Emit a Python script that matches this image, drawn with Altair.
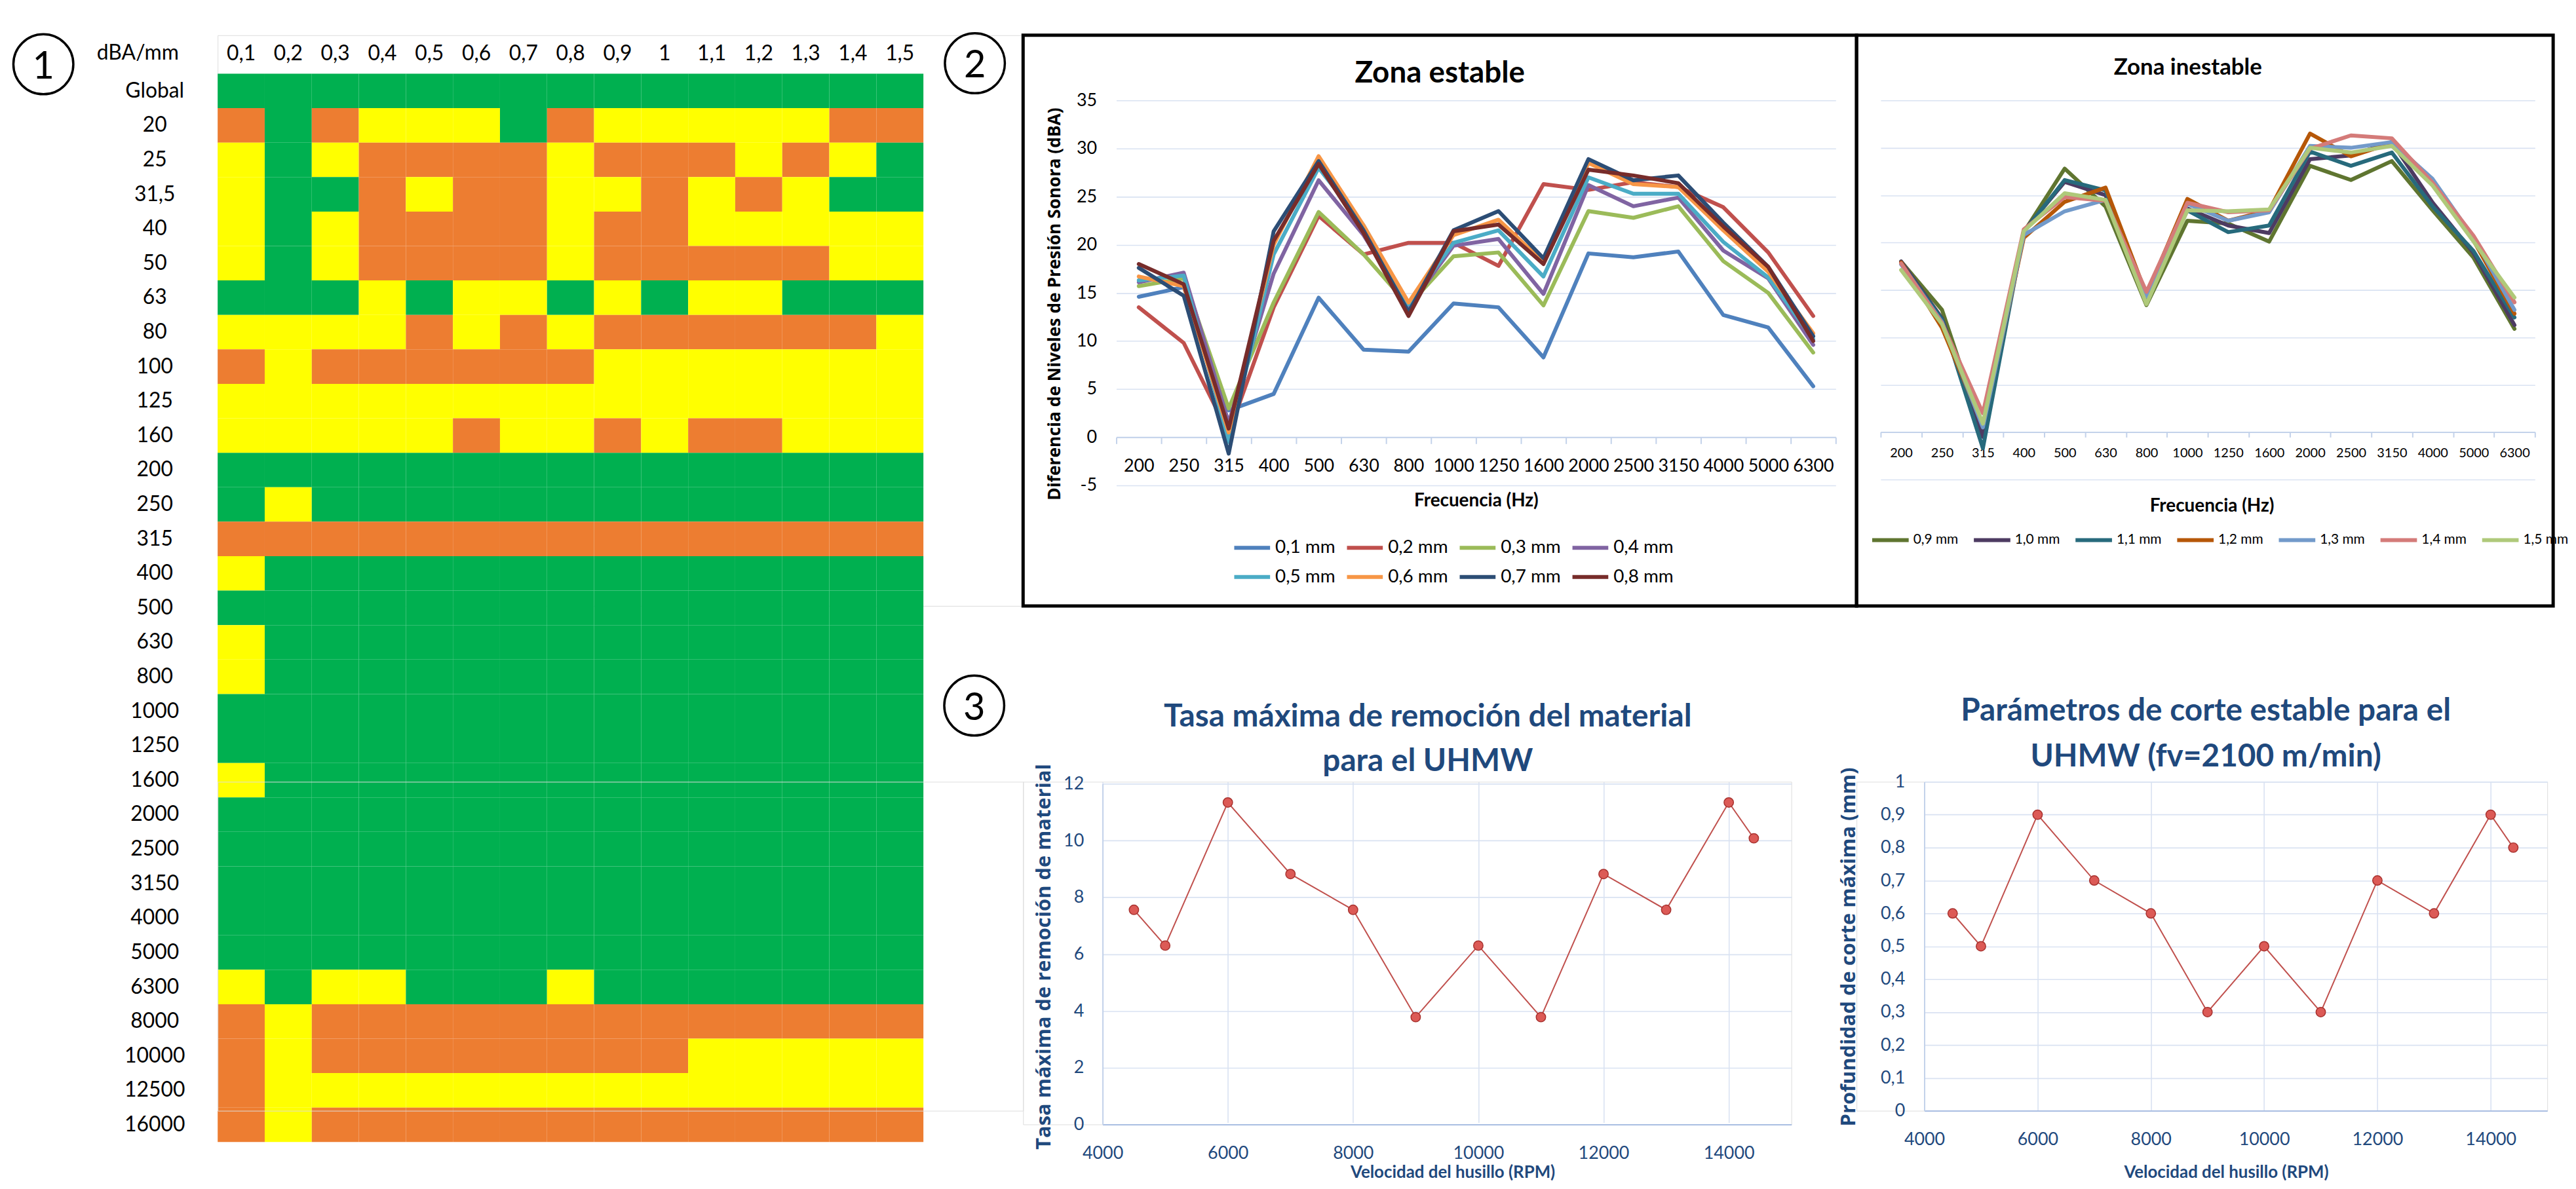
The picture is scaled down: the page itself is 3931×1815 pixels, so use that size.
import altair as alt
import pandas as pd

FONT = "Lato"
TFONT = "Open Sans"
NAVY = "#1F497D"
GRID = "#D9E2F2"
AXLINE = "#C3D2EA"
DOMAIN_BLUE = "#A9BEE2"

# ---------------- data ----------------
heat_cols = ["0,1", "0,2", "0,3", "0,4", "0,5", "0,6", "0,7", "0,8",
             "0,9", "1", "1,1", "1,2", "1,3", "1,4", "1,5"]
heat_rows = ["Global", "20", "25", "31,5", "40", "50", "63", "80", "100", "125",
             "160", "200", "250", "315", "400", "500", "630", "800", "1000",
             "1250", "1600", "2000", "2500", "3150", "4000", "5000", "6300",
             "8000", "10000", "12500", "16000"]
heat_grid = [
    "GGGGGGGGGGGGGGG",  # Global
    "OGOYYYGOYYYYYOO",  # 20
    "YGYOOOOYOOOYOYG",  # 25
    "YGGOYOOYYOYOYGG",  # 31,5
    "YGYOOOOYOOYYYYY",  # 40
    "YGYOOOOYOOOOOYY",  # 50
    "GGGYGYYGYGYYGGG",  # 63
    "YYYYOYOYOOOOOOY",  # 80
    "OYOOOOOOYYYYYYY",  # 100
    "YYYYYYYYYYYYYYY",  # 125
    "YYYYYOYYOYOOYYY",  # 160
    "GGGGGGGGGGGGGGG",  # 200
    "GYGGGGGGGGGGGGG",  # 250
    "OOOOOOOOOOOOOOO",  # 315
    "YGGGGGGGGGGGGGG",  # 400
    "GGGGGGGGGGGGGGG",  # 500
    "YGGGGGGGGGGGGGG",  # 630
    "YGGGGGGGGGGGGGG",  # 800
    "GGGGGGGGGGGGGGG",  # 1000
    "GGGGGGGGGGGGGGG",  # 1250
    "YGGGGGGGGGGGGGG",  # 1600
    "GGGGGGGGGGGGGGG",  # 2000
    "GGGGGGGGGGGGGGG",  # 2500
    "GGGGGGGGGGGGGGG",  # 3150
    "GGGGGGGGGGGGGGG",  # 4000
    "GGGGGGGGGGGGGGG",  # 5000
    "YGYYGGGYGGGGGGG",  # 6300
    "OYOOOOOOOOOOOOO",  # 8000
    "OYOOOOOOOOYYYYY",  # 10000
    "OYYYYYYYYYYYYYY",  # 12500
    "OYOOOOOOOOOOOOO",  # 16000
]
heat_levels = ["G", "Y", "O"]
heat_colors = ["#00B050", "#FFFF00", "#ED7D31"]

freqs = ["200", "250", "315", "400", "500", "630", "800", "1000", "1250",
         "1600", "2000", "2500", "3150", "4000", "5000", "6300"]

est_names = ["0,1 mm", "0,2 mm", "0,3 mm", "0,4 mm",
             "0,5 mm", "0,6 mm", "0,7 mm", "0,8 mm"]
est_colors = ["#4F81BD", "#C0504D", "#9BBB59", "#8064A2",
              "#4BACC6", "#F79646", "#2C4D75", "#772C2A"]
est_01 = [14.6, 15.6, 2.8, 4.5, 14.5, 9.1, 8.9, 13.9, 13.5, 8.3, 19.1, 18.7, 19.3, 12.7, 11.4, 5.3]
est_02 = [13.5, 9.8, 0.4, 13.5, 23.0, 19.0, 20.2, 20.2, 17.8, 26.3, 25.7, 26.5, 26.0, 23.9, 19.2, 12.6]
est_03 = [15.7, 16.5, 3.0, 14.0, 23.4, 19.0, 13.7, 18.8, 19.2, 13.7, 23.5, 22.8, 24.0, 18.3, 15.0, 8.8]
est_04 = [16.1, 17.1, 1.5, 17.0, 26.7, 21.0, 13.5, 19.9, 20.6, 14.9, 26.2, 24.0, 24.9, 19.4, 16.5, 9.6]
est_05 = [16.3, 16.8, -0.5, 19.0, 28.0, 22.0, 13.8, 20.2, 21.5, 16.7, 27.0, 25.3, 25.3, 20.3, 16.6, 10.2]
est_06 = [16.7, 15.7, 0.5, 20.0, 29.2, 22.0, 14.0, 21.0, 22.6, 18.2, 28.5, 26.3, 26.0, 21.5, 17.2, 10.8]
est_07 = [17.6, 14.7, -1.7, 21.4, 28.7, 21.5, 13.0, 21.5, 23.5, 18.6, 28.9, 26.7, 27.2, 22.3, 17.7, 10.5]
est_08 = [18.0, 15.9, 0.9, 20.4, 28.4, 21.2, 12.6, 21.4, 22.1, 18.0, 27.8, 27.2, 26.4, 21.9, 17.7, 10.0]
est_values = [est_01, est_02, est_03, est_04, est_05, est_06, est_07, est_08]

inest_names = ["0,9 mm", "1,0 mm", "1,1 mm", "1,2 mm", "1,3 mm", "1,4 mm", "1,5 mm"]
inest_colors = ["#5F7530", "#4D3B62", "#276A7C", "#B65708", "#729ACA", "#D47B79", "#AFC97A"]
ine_09 = [18.0, 12.9, 0.0, 21.1, 27.8, 23.8, 13.4, 22.3, 22.0, 20.1, 28.1, 26.6, 28.6, 23.4, 18.4, 10.9]
ine_10 = [18.0, 12.0, -0.5, 21.2, 26.4, 25.0, 14.1, 23.6, 21.8, 21.0, 28.8, 29.2, 30.6, 24.2, 18.9, 11.3]
ine_11 = [17.8, 11.9, -1.7, 21.1, 26.6, 25.5, 14.0, 23.4, 21.1, 21.8, 29.6, 28.1, 29.5, 23.8, 19.1, 12.1]
ine_12 = [17.9, 11.0, 0.7, 20.5, 24.3, 25.8, 14.5, 24.6, 22.3, 23.4, 31.5, 29.1, 30.5, 26.5, 20.2, 12.5]
ine_13 = [17.7, 11.6, 0.5, 20.8, 23.3, 24.5, 14.3, 24.1, 22.3, 23.2, 30.2, 30.0, 30.6, 26.7, 20.5, 12.9]
ine_14 = [17.8, 11.5, 2.0, 21.4, 24.8, 24.4, 14.8, 24.2, 23.2, 23.4, 29.9, 31.3, 31.0, 26.3, 20.7, 13.7]
ine_15 = [17.1, 11.4, 0.9, 21.2, 25.2, 24.5, 13.5, 23.4, 23.3, 23.5, 30.0, 29.5, 30.2, 26.0, 20.1, 14.2]
inest_values = [ine_09, ine_10, ine_11, ine_12, ine_13, ine_14, ine_15]

rpm = [4500, 5000, 6000, 7000, 8000, 9000, 10000, 11000, 12000, 13000, 14000, 14400]
tasa = [7.56, 6.3, 11.34, 8.82, 7.56, 3.78, 6.3, 3.78, 8.82, 7.56, 11.34, 10.08]
profundidad = [0.6, 0.5, 0.9, 0.7, 0.6, 0.3, 0.5, 0.3, 0.7, 0.6, 0.9, 0.8]
rpm_ticks = [4000, 6000, 8000, 10000, 12000, 14000]

# ---------------- frames ----------------
heat_df = pd.DataFrame([{"col": c, "row": r, "code": g[i]}
                        for r, g in zip(heat_rows, heat_grid)
                        for i, c in enumerate(heat_cols)])
est_df = pd.DataFrame([{"freq": f, "serie": n, "val": v}
                       for n, vals in zip(est_names, est_values)
                       for f, v in zip(freqs, vals)])
inest_df = pd.DataFrame([{"freq": f, "serie": n, "val": v}
                         for n, vals in zip(inest_names, inest_values)
                         for f, v in zip(freqs, vals)])
rate_df = pd.DataFrame({"rpm": rpm, "tasa": tasa, "prof": profundidad})
one = pd.DataFrame({"a": [0]})


def label_text(text, x, y, size, color="black", weight="bold"):
    return alt.Chart(one).mark_text(text=text, font=FONT, fontSize=size, fontWeight=weight,
                                    color=color, align="center", baseline="middle").encode(
        x=alt.value(x), y=alt.value(y))


# ---------------- panel 1: heatmap ----------------
COL1_W = 1236      # heatmap width + gap to the right block
HEAT_W = 1083
ROW1_H = 876
heat = alt.Chart(heat_df).mark_rect().encode(
    x=alt.X("col:N", sort=heat_cols,
            scale=alt.Scale(range=[0, HEAT_W], paddingInner=0, paddingOuter=0),
            axis=alt.Axis(orient="top", offset=-59, labelAngle=0, ticks=False, domain=False,
                          labelFont=FONT, labelFontSize=32, labelColor="black",
                          labelPadding=14, title=None)),
    y=alt.Y("row:N", sort=heat_rows,
            scale=alt.Scale(range=[59, 1699], paddingInner=0, paddingOuter=0),
            axis=alt.Axis(labelAlign="center", labelPadding=97, ticks=False, tickSize=0,
                          domain=False, labelFont=FONT, labelFontSize=32,
                          labelColor="black", title="dBA/mm", titleAngle=0,
                          titleX=-123, titleY=27, titleFont=FONT, titleFontSize=32,
                          titleFontWeight="normal", titleColor="black",
                          titleBaseline="middle", titleAlign="center")),
    color=alt.Color("code:N", scale=alt.Scale(domain=heat_levels, range=heat_colors),
                    legend=None),
)


def marker(label, cx, cy):
    base = alt.Chart(pd.DataFrame({"n": [label]}))
    ring = base.mark_point(shape="circle", size=8464, filled=False, color="black",
                           strokeWidth=3.5, opacity=1).encode(
        x=alt.value(cx), y=alt.value(cy))
    txt = base.mark_text(font=FONT, fontSize=58, color="black", baseline="middle",
                         align="center").encode(
        x=alt.value(cx), y=alt.value(cy + 5), text="n:N")
    return [ring, txt]


A = alt.layer(heat, *marker("1", -267.5, 44.5), *marker("2", 1162, 43),
              *marker("3", 1161, 1029)).properties(width=COL1_W, height=ROW1_H)

spacer = alt.Chart(one).mark_point(opacity=0).encode(
    x=alt.value(0), y=alt.value(0)).properties(width=COL1_W, height=505)

# ---------------- panel 2: zona estable ----------------
B_W = 1279
B_lines = alt.Chart(est_df).mark_line(strokeWidth=6, strokeJoin="round", strokeCap="round").encode(
    x=alt.X("freq:N", sort=freqs, bandPosition=0.5,
            scale=alt.Scale(type="band", range=[143, 1247], paddingInner=0, paddingOuter=0),
            axis=alt.Axis(orient="bottom", offset=-259, domainColor=AXLINE, domainWidth=2,
                          tickColor=AXLINE, tickWidth=2, tickSize=10, tickBand="extent",
                          labelAngle=0, labelFont=FONT, labelFontSize=27, labelColor="black",
                          labelPadding=21, title="Frecuencia (Hz)", titleFont=FONT,
                          titleFontSize=28, titleFontWeight="bold", titleColor="black",
                          titleX=695, titleY=98, titleBaseline="middle", titleAlign="center")),
    y=alt.Y("val:Q", scale=alt.Scale(domain=[-5, 35], range=[691, 100], nice=False, zero=False),
            axis=alt.Axis(orient="left", offset=-143, values=[-5, 0, 5, 10, 15, 20, 25, 30, 35],
                          domain=False, ticks=False, tickSize=0, grid=True, gridColor=GRID,
                          gridWidth=1.6, labelFont=FONT, labelFontSize=27, labelColor="black",
                          labelPadding=30, labelExpr="replace(datum.label, '\u2212', '-')",
                          title="Diferencia de Niveles de Presión Sonora (dBA)",
                          titleFont=TFONT, titleFontSize=26.5, titleFontWeight="bold",
                          titleColor="black", titleX=-94, titleY=412, titleAngle=270,
                          titleBaseline="middle", titleAlign="center")),
    color=alt.Color("serie:N", sort=est_names,
                    scale=alt.Scale(domain=est_names, range=est_colors),
                    legend=alt.Legend(orient="none", legendX=321, legendY=756,
                                      direction="horizontal", columns=4, title=None,
                                      symbolType="stroke", symbolSize=3025,
                                      symbolStrokeWidth=6, labelFont=FONT, labelFontSize=28,
                                      labelColor="black", labelOffset=5, columnPadding=5,
                                      rowPadding=0, padding=0)),
)
B = alt.layer(B_lines, label_text("Zona estable", 639.5, 59, 46)).properties(
    width=B_W, height=ROW1_H,
    view=alt.ViewBackground(stroke="black", strokeWidth=5),
)

# ---------------- panel 2: zona inestable ----------------
C_W = 1069
C_lines = alt.Chart(inest_df).mark_line(strokeWidth=6, strokeJoin="round", strokeCap="round").encode(
    x=alt.X("freq:N", sort=freqs, bandPosition=0.5,
            scale=alt.Scale(type="band", range=[37, 1041], paddingInner=0, paddingOuter=0),
            axis=alt.Axis(orient="bottom", offset=-267, domainColor=AXLINE, domainWidth=2,
                          tickColor=AXLINE, tickWidth=2, tickSize=8, tickBand="extent",
                          labelAngle=0, labelFont=FONT, labelFontSize=20, labelColor="black",
                          labelPadding=14, title="Frecuencia (Hz)", titleFont=FONT,
                          titleFontSize=28, titleFontWeight="bold", titleColor="black",
                          titleX=545, titleY=114, titleBaseline="middle", titleAlign="center")),
    y=alt.Y("val:Q", scale=alt.Scale(domain=[-5, 35], range=[682, 100], nice=False, zero=False),
            axis=alt.Axis(values=[-5, 0, 5, 10, 15, 20, 25, 30, 35], labels=False,
                          domain=False, ticks=False, grid=True, gridColor=GRID,
                          gridWidth=1.6, title=None)),
    color=alt.Color("serie:N", sort=inest_names,
                    scale=alt.Scale(domain=inest_names, range=inest_colors),
                    legend=alt.Legend(orient="none", legendX=21, legendY=744,
                                      direction="horizontal", columns=7, title=None,
                                      symbolType="stroke", symbolSize=3136,
                                      symbolStrokeWidth=6, labelFont=FONT, labelFontSize=21,
                                      labelColor="black", labelOffset=4, columnPadding=11,
                                      rowPadding=0, padding=0)),
)
C = alt.layer(C_lines, label_text("Zona inestable", 508.5, 50, 35)).properties(
    width=C_W, height=ROW1_H,
    view=alt.ViewBackground(stroke="black", strokeWidth=5),
)

# ---------------- panel 3 ----------------


def rpm_x(rng, title_x, title_y):
    return alt.X("rpm:Q", scale=alt.Scale(domain=[4000, 15000], range=rng, nice=False, zero=False),
                 axis=alt.Axis(values=rpm_ticks, format="d", labelFlush=False, grid=True,
                               gridColor=GRID, gridWidth=1.6, domainColor=DOMAIN_BLUE,
                               domainWidth=2, ticks=False, tickSize=0, labelFont=FONT,
                               labelFontSize=27, labelColor=NAVY, labelPadding=31,
                               title="Velocidad del husillo (RPM)", titleFont=FONT,
                               titleFontSize=26, titleFontWeight="bold", titleColor=NAVY,
                               titleX=title_x, titleY=title_y, titleBaseline="middle",
                               titleAlign="center"))


def rate_y(field, dom, vals, rng, off, title, tx, ty, expr=None, pad=29):
    kw = {}
    if expr:
        kw["labelExpr"] = expr
    return alt.Y(field, scale=alt.Scale(domain=dom, range=rng, nice=False),
                 axis=alt.Axis(orient="left", offset=off, values=vals, grid=True,
                               gridColor=GRID, gridWidth=1.6, domainColor=AXLINE, domainWidth=2,
                               ticks=False, tickSize=0, labelFont=FONT, labelFontSize=27,
                               labelColor=NAVY, labelPadding=pad, title=title,
                               titleFont=TFONT, titleFontSize=31, titleFontWeight="bold",
                               titleColor=NAVY, titleX=tx, titleY=ty, titleAngle=270,
                               titleBaseline="middle", titleAlign="center", **kw))


def rate_marks(x, y):
    line = alt.Chart(rate_df).mark_line(color="#C0504D", strokeWidth=2).encode(x=x, y=y)
    pts = alt.Chart(rate_df).mark_point(shape="circle", filled=True, size=210, fill="#DC5A56",
                                        stroke="#A8322F", strokeWidth=1.5, opacity=1).encode(x=x, y=y)
    return [line, pts]


D_W, D_H = 1179, 526
xD = rpm_x([122, 1179], 659, 74)
yD = rate_y("tasa:Q", [0, 12], [0, 2, 4, 6, 8, 10, 12], [526, 3], -122,
            "Tasa máxima de remoción de material", -90, 268)
D = alt.layer(*rate_marks(xD, yD),
              label_text("Tasa máxima de remoción del material", 621, -99, 48, NAVY),
              label_text("para el UHMW", 621, -30, 48, NAVY)).properties(width=D_W, height=D_H)

E_W, E_H = 1060, 505
xE = rpm_x([104, E_W], 567, 95)
yE = rate_y("prof:Q", [0, 1], [0, 0.1, 0.2, 0.3, 0.4, 0.5, 0.6, 0.7, 0.8, 0.9, 1.0],
            [E_H, 0], -104, "Profundidad de corte máxima (mm)", -116, 253,
            expr="replace(format(datum.value, '~g'), '.', ',')", pad=30)
E = alt.layer(*rate_marks(xE, yE),
              label_text("Parámetros de corte estable para el", 536, -108, 48, NAVY),
              label_text("UHMW (fv=2100 m/min)", 536, -38, 48, NAVY)).properties(width=E_W, height=E_H)

# ---------------- layout ----------------
chart = alt.concat(A, B, C, spacer, D, E, columns=3, spacing={"row": 270, "column": 0},
                   bounds="flush").resolve_scale(
    color="independent", x="independent", y="independent").resolve_legend(
    color="independent").properties(
    padding={"left": 5, "top": 30, "right": 0, "bottom": 0},
    background="white",
).configure_view(stroke=None).configure(font=FONT)

chart.save("out.html", embed_options={"renderer": "svg", "actions": False})
